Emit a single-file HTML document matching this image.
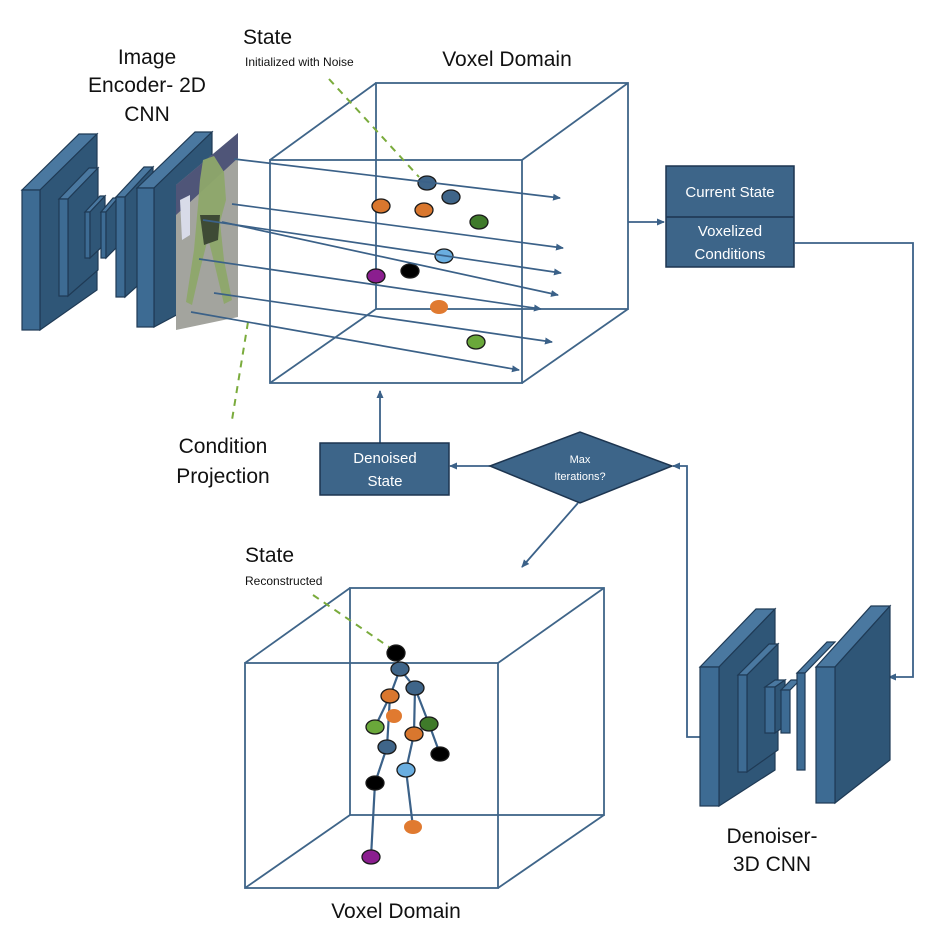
<!DOCTYPE html>
<html><head><meta charset="utf-8"><style>
html,body{margin:0;padding:0;background:#fff;}
svg{display:block;font-family:"Liberation Sans",sans-serif;}
</style></head><body>
<svg width="945" height="952" viewBox="0 0 945 952" xmlns="http://www.w3.org/2000/svg">
<defs>
<marker id="ah" markerWidth="8" markerHeight="8" refX="7" refY="4" orient="auto" markerUnits="userSpaceOnUse"><path d="M0,0.5 L8,4 L0,7.5 Z" fill="#3b6188"/></marker>
</defs>
<g stroke="#1f3a55" stroke-width="1.2">
<!-- encoder blocks -->
<polygon points="22,190 40,190 97,134 79,134" fill="#4a78a0"/>
<polygon points="40,190 97,134 97,290 40,330" fill="#2f5677"/>
<rect x="22" y="190" width="18" height="140" fill="#3d6b93"/>
<polygon points="59,199 68,199 98,168 89,168" fill="#4a78a0"/>
<polygon points="68,199 98,168 98,270 68,296" fill="#2f5677"/>
<rect x="59" y="199" width="9" height="97" fill="#3d6b93"/>
<polygon points="85,212 90,212 105,196 100,196" fill="#4a78a0"/>
<rect x="85" y="212" width="5" height="46" fill="#3d6b93"/>
<polygon points="90,212 105,196 105,244 90,258" fill="#2f5677"/>
<polygon points="101,212 106,212 118,198 113,198" fill="#4a78a0"/>
<rect x="101" y="212" width="5" height="46" fill="#3d6b93"/>
<polygon points="106,212 118,198 118,246 106,258" fill="#2f5677"/>
<polygon points="116,197 125,197 153,167 144,167" fill="#4a78a0"/>
<polygon points="125,197 153,167 153,272 125,297" fill="#2f5677"/>
<rect x="116" y="197" width="9" height="100" fill="#3d6b93"/>
<polygon points="137,188 154,188 212,132 195,132" fill="#4a78a0"/>
<polygon points="154,188 212,132 212,296 154,327" fill="#2f5677"/>
<rect x="137" y="188" width="17" height="139" fill="#3d6b93"/>
</g>
<!-- image panel -->
<polygon points="176,185 238,133 238,317 176,330" fill="#a3a49e"/>
<polygon points="176,185 238,133 238,158 176,215" fill="#4f5578"/>
<polygon points="180,200 190,195 190,235 182,240" fill="#d8dbe8"/>
<path d="M203,160 L214,156 L224,172 L226,200 L220,222 L224,260 L232,300 L224,304 L214,262 L208,238 L200,270 L192,305 L186,302 L194,250 L198,205 L200,180 Z" fill="#8ea86a" opacity="0.95"/>
<path d="M200,215 L220,215 L218,240 L204,245 Z" fill="#3e4a35"/>

<!-- top cube -->
<g fill="none" stroke="#3f6589" stroke-width="1.8">
<rect x="270" y="160" width="252" height="223"/>
<rect x="376" y="83" width="252" height="226"/>
<line x1="270" y1="160" x2="376" y2="83"/><line x1="522" y1="160" x2="628" y2="83"/>
<line x1="270" y1="383" x2="376" y2="309"/><line x1="522" y1="383" x2="628" y2="309"/>
</g>
<line x1="329" y1="79" x2="419" y2="177" stroke="#7aab3c" stroke-width="2" stroke-dasharray="7,6"/>
<line x1="248" y1="322" x2="232" y2="420" stroke="#7aab3c" stroke-width="2" stroke-dasharray="7,6"/>
<g stroke="#1a1a1a" stroke-width="1.3">
<ellipse cx="427" cy="183" rx="9" ry="7" fill="#3f6589"/>
<ellipse cx="451" cy="197" rx="9" ry="7" fill="#3f6589"/>
<ellipse cx="381" cy="206" rx="9" ry="7" fill="#d9772e"/>
<ellipse cx="424" cy="210" rx="9" ry="7" fill="#d9772e"/>
<ellipse cx="479" cy="222" rx="9" ry="7" fill="#3f7a2a"/>
<ellipse cx="444" cy="256" rx="9" ry="7" fill="#6aaee0"/>
<ellipse cx="376" cy="276" rx="9" ry="7" fill="#8b1e8f"/>
<ellipse cx="410" cy="271" rx="9" ry="7" fill="#000"/>
<ellipse cx="439" cy="307" rx="9" ry="7" fill="#e07a30" stroke="none"/>
<ellipse cx="476" cy="342" rx="9" ry="7" fill="#6aa83a"/>
</g>
<g stroke="#3b6188" stroke-width="1.7" marker-end="url(#ah)">
<line x1="234" y1="159" x2="560" y2="198"/>
<line x1="232" y1="204" x2="563" y2="248"/>
<line x1="203" y1="220" x2="561" y2="273"/>
<line x1="222" y1="222" x2="558" y2="295"/>
<line x1="199" y1="259" x2="541" y2="309"/>
<line x1="214" y1="293" x2="552" y2="342"/>
<line x1="191" y1="312" x2="519" y2="370"/>
</g>

<!-- current state box -->
<rect x="666" y="166" width="128" height="101" fill="#3d6589" stroke="#1d3550" stroke-width="1.5"/>
<line x1="666" y1="217" x2="794" y2="217" stroke="#1d3550" stroke-width="1.5"/>
<g fill="#fff" font-size="15" text-anchor="middle">
<text x="730" y="197">Current State</text>
<text x="730" y="236">Voxelized</text>
<text x="730" y="259">Conditions</text>
</g>
<g fill="none" stroke="#3b6188" stroke-width="1.8">
<line x1="628" y1="222" x2="664" y2="222" marker-end="url(#ah)"/>
<polyline points="794,243 913,243 913,677 889,677" marker-end="url(#ah)"/>
<polyline points="700,737 687,737 687,466 673,466" marker-end="url(#ah)"/>
<line x1="490" y1="466" x2="450" y2="466" marker-end="url(#ah)"/>
<line x1="380" y1="443" x2="380" y2="391" marker-end="url(#ah)"/>
<line x1="578" y1="503" x2="522" y2="567" marker-end="url(#ah)"/>
</g>
<!-- diamond -->
<polygon points="490,466 580,432 672,466 580,503" fill="#3d6589" stroke="#1d3550" stroke-width="1.5"/>
<g fill="#fff" font-size="11" text-anchor="middle">
<text x="580" y="463">Max</text><text x="580" y="480">Iterations?</text>
</g>
<rect x="320" y="443" width="129" height="52" fill="#3d6589" stroke="#1d3550" stroke-width="1.5"/>
<g fill="#fff" font-size="15" text-anchor="middle">
<text x="385" y="463">Denoised</text><text x="385" y="486">State</text>
</g>

<!-- denoiser -->
<g stroke="#1f3a55" stroke-width="1.2">
<polygon points="700,667 719,667 775,609 756,609" fill="#4a78a0"/>
<polygon points="719,667 775,609 775,770 719,806" fill="#2f5677"/>
<rect x="700" y="667" width="19" height="139" fill="#3d6b93"/>
<polygon points="738,675 747,675 778,644 769,644" fill="#4a78a0"/>
<polygon points="747,675 778,644 778,750 747,772" fill="#2f5677"/>
<rect x="738" y="675" width="9" height="97" fill="#3d6b93"/>
<polygon points="765,687 775,687 785,680 775,680" fill="#4a78a0"/>
<rect x="765" y="687" width="10" height="46" fill="#3d6b93"/>
<polygon points="775,687 785,680 785,726 775,733" fill="#2f5677"/>
<polygon points="781,690 790,690 800,680 791,680" fill="#4a78a0"/>
<rect x="781" y="690" width="9" height="43" fill="#3d6b93"/>
<polygon points="797,673 805,673 835,642 827,642" fill="#4a78a0"/>
<rect x="797" y="673" width="8" height="97" fill="#3d6b93"/>
<polygon points="816,667 835,667 890,606 871,606" fill="#4a78a0"/>
<polygon points="835,667 890,606 890,760 835,803" fill="#2f5677"/>
<rect x="816" y="667" width="19" height="136" fill="#3d6b93"/>
</g>

<!-- bottom cube -->
<g fill="none" stroke="#3f6589" stroke-width="1.8">
<rect x="245" y="663" width="253" height="225"/>
<rect x="350" y="588" width="254" height="227"/>
<line x1="245" y1="663" x2="350" y2="588"/><line x1="498" y1="663" x2="604" y2="588"/>
<line x1="245" y1="888" x2="350" y2="815"/><line x1="498" y1="888" x2="604" y2="815"/>
</g>
<line x1="313" y1="595" x2="389" y2="647" stroke="#7aab3c" stroke-width="2" stroke-dasharray="7,6"/>
<g stroke="#3b6188" stroke-width="2.2" fill="none">
<polyline points="396,653 400,669 390,696 375,727"/>
<polyline points="390,696 387,747 375,783 371,857"/>
<polyline points="400,669 415,688 429,724 440,754"/>
<polyline points="415,688 414,734 406,770 413,827"/>
</g>
<g stroke="#1a1a1a" stroke-width="1.3">
<ellipse cx="396" cy="653" rx="9" ry="8" fill="#000"/>
<ellipse cx="400" cy="669" rx="9" ry="7" fill="#3f6589"/>
<ellipse cx="415" cy="688" rx="9" ry="7" fill="#3f6589"/>
<ellipse cx="390" cy="696" rx="9" ry="7" fill="#d9772e"/>
<ellipse cx="394" cy="716" rx="8" ry="7" fill="#e07a30" stroke="none"/>
<ellipse cx="375" cy="727" rx="9" ry="7" fill="#6aa83a"/>
<ellipse cx="429" cy="724" rx="9" ry="7" fill="#3f7a2a"/>
<ellipse cx="414" cy="734" rx="9" ry="7" fill="#d9772e"/>
<ellipse cx="387" cy="747" rx="9" ry="7" fill="#3f6589"/>
<ellipse cx="440" cy="754" rx="9" ry="7" fill="#000"/>
<ellipse cx="406" cy="770" rx="9" ry="7" fill="#6aaee0"/>
<ellipse cx="375" cy="783" rx="9" ry="7" fill="#000"/>
<ellipse cx="413" cy="827" rx="9" ry="7" fill="#e07a30" stroke="none"/>
<ellipse cx="371" cy="857" rx="9" ry="7" fill="#8b1e8f"/>
</g>

<!-- labels -->
<g fill="#111" text-anchor="middle" font-size="21">
<text x="147" y="64">Image</text>
<text x="147" y="92">Encoder- 2D</text>
<text x="147" y="121">CNN</text>
<text x="507" y="66">Voxel Domain</text>
<text x="223" y="453">Condition</text>
<text x="223" y="483">Projection</text>
<text x="396" y="918">Voxel Domain</text>
<text x="772" y="843">Denoiser-</text>
<text x="772" y="871">3D CNN</text>
</g>
<g fill="#111" font-size="21">
<text x="243" y="44">State</text>
<text x="245" y="562">State</text>
</g>
<g fill="#111" font-size="12">
<text x="245" y="66">Initialized with Noise</text>
<text x="245" y="585">Reconstructed</text>
</g>
</svg>
</body></html>
